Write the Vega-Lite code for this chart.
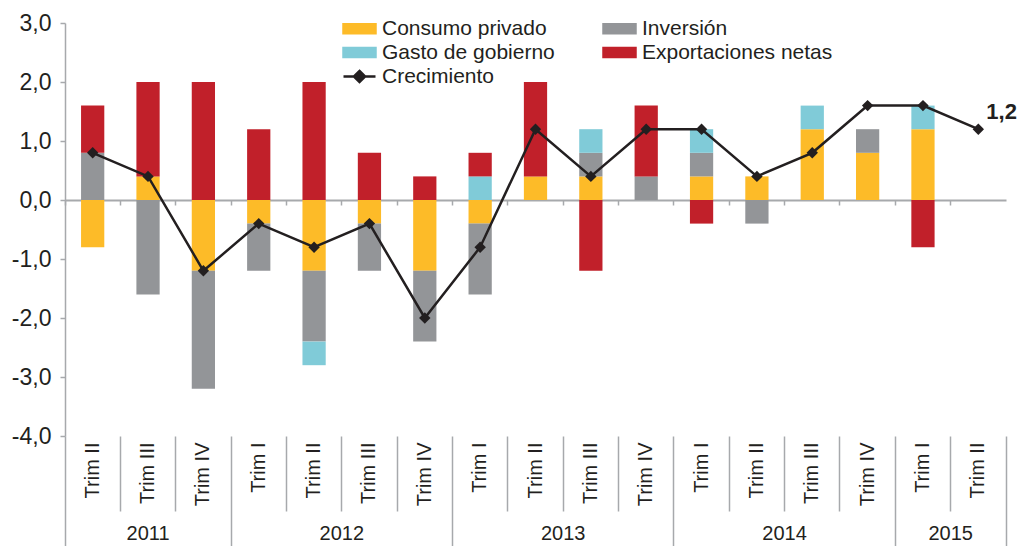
{
  "$schema": "https://vega.github.io/schema/vega-lite/v6.json",
  "width": 941,
  "height": 413,
  "autosize": "none",
  "padding": {"left": 65, "top": 23, "right": 17, "bottom": 110},
  "background": "white",
  "config": {
    "locale": {"number": {"decimal": ",", "thousands": ".", "grouping": [3], "currency": ["", " €"], "minus": "-"}},
    "font": "Liberation Sans",
    "view": {"stroke": null},
    "axis": {"labelFont": "Liberation Sans", "labelColor": "#231F20", "domainColor": "#A7A9AC", "tickColor": "#A7A9AC", "grid": false, "title": null},
    "legend": {"labelFont": "Liberation Sans"}
  },
  "datasets": {
    "bars": [
      {"q": "2011 Trim II", "c": "Consumo privado", "o": 1, "v": -0.8},
      {"q": "2011 Trim II", "c": "Inversión", "o": 2, "v": 0.8},
      {"q": "2011 Trim II", "c": "Exportaciones netas", "o": 4, "v": 0.8},
      {"q": "2011 Trim III", "c": "Consumo privado", "o": 1, "v": 0.4},
      {"q": "2011 Trim III", "c": "Inversión", "o": 2, "v": -1.6},
      {"q": "2011 Trim III", "c": "Exportaciones netas", "o": 4, "v": 1.6},
      {"q": "2011 Trim IV", "c": "Consumo privado", "o": 1, "v": -1.2},
      {"q": "2011 Trim IV", "c": "Inversión", "o": 2, "v": -2.0},
      {"q": "2011 Trim IV", "c": "Exportaciones netas", "o": 4, "v": 2.0},
      {"q": "2012 Trim I", "c": "Consumo privado", "o": 1, "v": -0.4},
      {"q": "2012 Trim I", "c": "Inversión", "o": 2, "v": -0.8},
      {"q": "2012 Trim I", "c": "Exportaciones netas", "o": 4, "v": 1.2},
      {"q": "2012 Trim II", "c": "Consumo privado", "o": 1, "v": -1.2},
      {"q": "2012 Trim II", "c": "Inversión", "o": 2, "v": -1.2},
      {"q": "2012 Trim II", "c": "Gasto de gobierno", "o": 3, "v": -0.4},
      {"q": "2012 Trim II", "c": "Exportaciones netas", "o": 4, "v": 2.0},
      {"q": "2012 Trim III", "c": "Consumo privado", "o": 1, "v": -0.4},
      {"q": "2012 Trim III", "c": "Inversión", "o": 2, "v": -0.8},
      {"q": "2012 Trim III", "c": "Exportaciones netas", "o": 4, "v": 0.8},
      {"q": "2012 Trim IV", "c": "Consumo privado", "o": 1, "v": -1.2},
      {"q": "2012 Trim IV", "c": "Inversión", "o": 2, "v": -1.2},
      {"q": "2012 Trim IV", "c": "Exportaciones netas", "o": 4, "v": 0.4},
      {"q": "2013 Trim I", "c": "Consumo privado", "o": 1, "v": -0.4},
      {"q": "2013 Trim I", "c": "Inversión", "o": 2, "v": -1.2},
      {"q": "2013 Trim I", "c": "Gasto de gobierno", "o": 3, "v": 0.4},
      {"q": "2013 Trim I", "c": "Exportaciones netas", "o": 4, "v": 0.4},
      {"q": "2013 Trim II", "c": "Consumo privado", "o": 1, "v": 0.4},
      {"q": "2013 Trim II", "c": "Exportaciones netas", "o": 4, "v": 1.6},
      {"q": "2013 Trim III", "c": "Consumo privado", "o": 1, "v": 0.4},
      {"q": "2013 Trim III", "c": "Inversión", "o": 2, "v": 0.4},
      {"q": "2013 Trim III", "c": "Gasto de gobierno", "o": 3, "v": 0.4},
      {"q": "2013 Trim III", "c": "Exportaciones netas", "o": 4, "v": -1.2},
      {"q": "2013 Trim IV", "c": "Inversión", "o": 2, "v": 0.4},
      {"q": "2013 Trim IV", "c": "Exportaciones netas", "o": 4, "v": 1.2},
      {"q": "2014 Trim I", "c": "Consumo privado", "o": 1, "v": 0.4},
      {"q": "2014 Trim I", "c": "Inversión", "o": 2, "v": 0.4},
      {"q": "2014 Trim I", "c": "Gasto de gobierno", "o": 3, "v": 0.4},
      {"q": "2014 Trim I", "c": "Exportaciones netas", "o": 4, "v": -0.4},
      {"q": "2014 Trim II", "c": "Consumo privado", "o": 1, "v": 0.4},
      {"q": "2014 Trim II", "c": "Inversión", "o": 2, "v": -0.4},
      {"q": "2014 Trim III", "c": "Consumo privado", "o": 1, "v": 1.2},
      {"q": "2014 Trim III", "c": "Gasto de gobierno", "o": 3, "v": 0.4},
      {"q": "2014 Trim IV", "c": "Consumo privado", "o": 1, "v": 0.8},
      {"q": "2014 Trim IV", "c": "Inversión", "o": 2, "v": 0.4},
      {"q": "2015 Trim I", "c": "Consumo privado", "o": 1, "v": 1.2},
      {"q": "2015 Trim I", "c": "Gasto de gobierno", "o": 3, "v": 0.4},
      {"q": "2015 Trim I", "c": "Exportaciones netas", "o": 4, "v": -0.8}
    ],
    "growth": [
      {"q": "2011 Trim II", "g": 0.8},
      {"q": "2011 Trim III", "g": 0.4},
      {"q": "2011 Trim IV", "g": -1.2},
      {"q": "2012 Trim I", "g": -0.4},
      {"q": "2012 Trim II", "g": -0.8},
      {"q": "2012 Trim III", "g": -0.4},
      {"q": "2012 Trim IV", "g": -2.0},
      {"q": "2013 Trim I", "g": -0.8},
      {"q": "2013 Trim II", "g": 1.2},
      {"q": "2013 Trim III", "g": 0.4},
      {"q": "2013 Trim IV", "g": 1.2},
      {"q": "2014 Trim I", "g": 1.2},
      {"q": "2014 Trim II", "g": 0.4},
      {"q": "2014 Trim III", "g": 0.8},
      {"q": "2014 Trim IV", "g": 1.6},
      {"q": "2015 Trim I", "g": 1.6},
      {"q": "2015 Trim II", "g": 1.2}
    ]
  },
  "resolve": {"axis": {"x": "independent"}},
  "layer": [
    {
      "data": {"name": "bars"},
      "mark": {"type": "bar", "width": {"band": 0.42}},
      "encoding": {
        "x": {
          "field": "q", "type": "nominal",
          "scale": {"domain": ["2011 Trim II","2011 Trim III","2011 Trim IV","2012 Trim I","2012 Trim II","2012 Trim III","2012 Trim IV","2013 Trim I","2013 Trim II","2013 Trim III","2013 Trim IV","2014 Trim I","2014 Trim II","2014 Trim III","2014 Trim IV","2015 Trim I","2015 Trim II"], "paddingInner": 0, "paddingOuter": 0},
          "axis": {"orient": "bottom", "domain": false, "ticks": false, "labelAngle": 270, "labelAlign": "right", "labelBaseline": "middle", "labelPadding": 6, "labelFontSize": 20, "labelExpr": "substring(datum.label, 5)"}
        },
        "y": {
          "field": "v", "type": "quantitative", "stack": "zero",
          "scale": {"domain": [-4, 3], "nice": false},
          "axis": {"orient": "left", "values": [-4, -3, -2, -1, 0, 1, 2, 3], "format": ".1f", "labelFontSize": 23, "labelPadding": 9, "tickSize": 5, "domainWidth": 1.5, "tickWidth": 1.5}
        },
        "color": {
          "field": "c", "type": "nominal",
          "scale": {"domain": ["Consumo privado", "Gasto de gobierno", "Crecimiento", "Inversión", "Exportaciones netas"], "range": ["#FDBB28", "#80CBD8", "#231F20", "#939598", "#C1202A"]},
          "legend": {
            "orient": "none", "legendX": 284, "legendY": -5, "columns": 2, "title": null,
            "labelFontSize": 21, "labelColor": "#231F20", "labelOffset": 12, "columnPadding": 43, "rowPadding": 2,
            "symbolSize": 256, "labelLimit": 400, "padding": 0,
            "encode": {"symbols": {"update": {
              "shape": {"signal": "datum.value === 'Crecimiento' ? 'M-2,0H2M0,-0.7L0.7,0L0,0.7L-0.7,0Z' : 'M-2,-0.55H2V0.55H-2Z'"},
              "fill": {"signal": "scale('color', datum.value)"},
              "stroke": {"signal": "datum.value === 'Crecimiento' ? '#231F20' : 'transparent'"},
              "strokeWidth": {"value": 2.5},
              "opacity": {"value": 1},
              "fillOpacity": {"value": 1},
              "size": {"value": 256}
            }}}
          }
        },
        "order": {"field": "o", "type": "quantitative"}
      }
    },
    {
      "data": {"name": "growth"},
      "mark": {"type": "line", "strokeWidth": 2.5, "point": {"shape": "diamond", "size": 130, "filled": true, "opacity": 1}},
      "encoding": {
        "x": {
          "field": "q", "type": "nominal",
          "axis": {"orient": "bottom", "offset": -236, "labels": false, "domain": true, "domainWidth": 2, "ticks": true, "tickSize": 5, "tickWidth": 1.5, "bandPosition": 0}
        },
        "y": {"field": "g", "type": "quantitative", "axis": {"orient": "left", "values": [-4, -3, -2, -1, 0, 1, 2, 3], "format": ".1f", "labelFontSize": 23, "labelPadding": 9, "tickSize": 5, "domainWidth": 1.5, "tickWidth": 1.5}},
        "color": {"datum": "Crecimiento"}
      }
    },
    {
      "data": {"name": "growth"},
      "transform": [{"filter": "datum.q === '2015 Trim II'"}],
      "mark": {"type": "text", "align": "left", "baseline": "middle", "dx": 8, "dy": -17, "fontSize": 22, "fontWeight": "bold", "color": "#231F20"},
      "encoding": {
        "x": {"field": "q", "type": "nominal", "axis": null},
        "y": {"field": "g", "type": "quantitative", "axis": {"orient": "left", "values": [-4, -3, -2, -1, 0, 1, 2, 3], "format": ".1f", "labelFontSize": 23, "labelPadding": 9, "tickSize": 5, "domainWidth": 1.5, "tickWidth": 1.5}},
        "text": {"field": "g", "type": "quantitative", "format": ".1f"}
      }
    },
    {
      "data": {"name": "growth"},
      "mark": {"type": "point", "opacity": 0},
      "encoding": {
        "x": {
          "field": "q", "type": "nominal",
          "axis": {"orient": "bottom", "labels": false, "domain": false, "ticks": true, "bandPosition": 0, "tickWidth": 1.5,
            "tickSize": {"condition": {"test": "length(datum.value) === 11 || datum.value === '2011 Trim II'", "value": 110}, "value": 75}}
        }
      }
    },
    {
      "data": {"name": "growth"},
      "mark": {"type": "point", "opacity": 0},
      "encoding": {
        "x": {
          "field": "q", "type": "nominal",
          "axis": {"orient": "bottom", "values": ["2015 Trim II"], "labels": false, "domain": false, "ticks": true, "bandPosition": 1, "tickWidth": 1.5, "tickSize": 110}
        }
      }
    },
    {
      "data": {"name": "growth"},
      "mark": {"type": "point", "opacity": 0},
      "encoding": {
        "x": {
          "field": "q", "type": "nominal",
          "axis": {"orient": "bottom", "values": ["2011 Trim III", "2012 Trim II", "2013 Trim II", "2014 Trim II", "2015 Trim I"], "domain": false, "ticks": false,
            "labelAngle": 0, "labelAlign": "center", "labelBaseline": "top", "labelPadding": 87, "labelFontSize": 20, "labelOverlap": false,
            "labelExpr": "substring(datum.label, 0, 4)",
            "labelOffset": {"condition": {"test": "datum.value === '2011 Trim III'", "value": 0}, "value": 27.7}}
        }
      }
    }
  ]
}
